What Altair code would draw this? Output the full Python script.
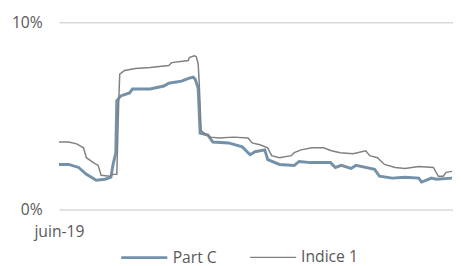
import altair as alt
import pandas as pd

series = ["Part C", "Indice 1"]
colors = ["#7391a8", "#808080"]
widths = [3, 1.5]
x_labels = ["juin-19"]
y_ticks = [0, 10]

# days since start (juin-19) and values in %
part_jours = [0, 30, 60, 84, 114, 141, 159, 165, 174, 177, 189, 216, 225, 279, 321, 336,
              375, 399, 411, 417, 426, 429, 432, 456, 471, 519, 561, 585, 600, 630, 639,
              675, 720, 735, 771, 831, 846, 864, 894, 909, 966, 981, 1020, 1059, 1101,
              1110, 1140, 1155, 1203]
part_vals = [2.41, 2.41, 2.25, 1.88, 1.57, 1.62, 1.73, 2.36, 3.04, 5.81, 6.07, 6.23, 6.44,
             6.44, 6.60, 6.75, 6.86, 7.02, 7.07, 6.96, 6.49, 5.29, 4.08, 3.98, 3.61, 3.56,
             3.35, 2.93, 3.09, 3.19, 2.67, 2.41, 2.36, 2.57, 2.51, 2.51, 2.25, 2.36, 2.20,
             2.36, 2.15, 1.78, 1.68, 1.73, 1.68, 1.47, 1.68, 1.62, 1.68]

ind_jours = [0, 30, 54, 75, 84, 105, 120, 129, 156, 165, 177, 183, 186, 201, 234, 279, 336,
             345, 396, 399, 414, 420, 426, 429, 435, 444, 465, 489, 534, 579, 591, 615, 639,
             651, 675, 711, 720, 741, 774, 810, 834, 861, 900, 939, 951, 975, 996, 1029,
             1059, 1101, 1146, 1161, 1176, 1185, 1203]
ind_vals = [3.61, 3.61, 3.51, 3.30, 2.77, 2.51, 2.36, 1.83, 1.78, 1.88, 1.88, 5.81, 7.23,
            7.43, 7.54, 7.59, 7.70, 7.85, 7.96, 8.12, 8.22, 8.17, 7.80, 6.86, 4.24, 4.08,
            3.87, 3.82, 3.87, 3.82, 3.56, 3.46, 3.30, 2.88, 2.77, 2.88, 3.04, 3.19, 3.30,
            3.30, 3.14, 3.04, 2.98, 3.14, 2.88, 2.77, 2.41, 2.25, 2.20, 2.30, 2.25, 1.78,
            1.78, 1.99, 2.04]

df = pd.DataFrame({
    "jour": part_jours + ind_jours,
    "val": part_vals + ind_vals,
    "serie": [series[0]] * len(part_jours) + [series[1]] * len(ind_jours),
})

FONT = "Open Sans"
TXT = "#595959"
FS = 16

leg = dict(orient="none", legendX=62, legendY=215, direction="horizontal", title=None,
           symbolType="stroke", symbolSize=2209, labelFont=FONT, labelFontSize=FS,
           labelColor=TXT, labelOffset=4, columnPadding=31)

base = alt.Chart(df).mark_line(interpolate="linear").encode(
    x=alt.X("jour:Q", scale=alt.Scale(domain=[0, 1206], nice=False, zero=False),
            axis=alt.Axis(values=[0], labelExpr=f"'{x_labels[0]}'", grid=False, domain=False,
                          ticks=False, title=None, labelFlush=False, labelPadding=14,
                          labelFont=FONT, labelFontSize=FS, labelColor=TXT)),
    y=alt.Y("val:Q", scale=alt.Scale(domain=[0, 10], nice=False),
            axis=alt.Axis(values=y_ticks, labelExpr="datum.value + '%'", grid=True,
                          gridColor="#d9d9d9", gridWidth=1.5, domain=False, ticks=False,
                          title=None, labelPadding=17, labelFont=FONT, labelFontSize=FS,
                          labelColor=TXT)),
    color=alt.Color("serie:N", scale=alt.Scale(domain=series, range=colors),
                    legend=alt.Legend(**leg)),
    strokeWidth=alt.StrokeWidth("serie:N", scale=alt.Scale(domain=series, range=widths),
                                legend=alt.Legend(**leg)),
)

layer_part = base.transform_filter(alt.datum.serie == series[0])
layer_ind = base.transform_filter(alt.datum.serie == series[1])

chart = alt.layer(layer_part, layer_ind).properties(
    width=402, height=191,
    background="white",
    autosize=alt.AutoSizeParams(type="none"),
    padding={"left": 52, "top": 12, "right": 0, "bottom": 60},
).configure_view(stroke=None)

chart.save("out.html", embed_options={"renderer": "svg", "actions": False})
